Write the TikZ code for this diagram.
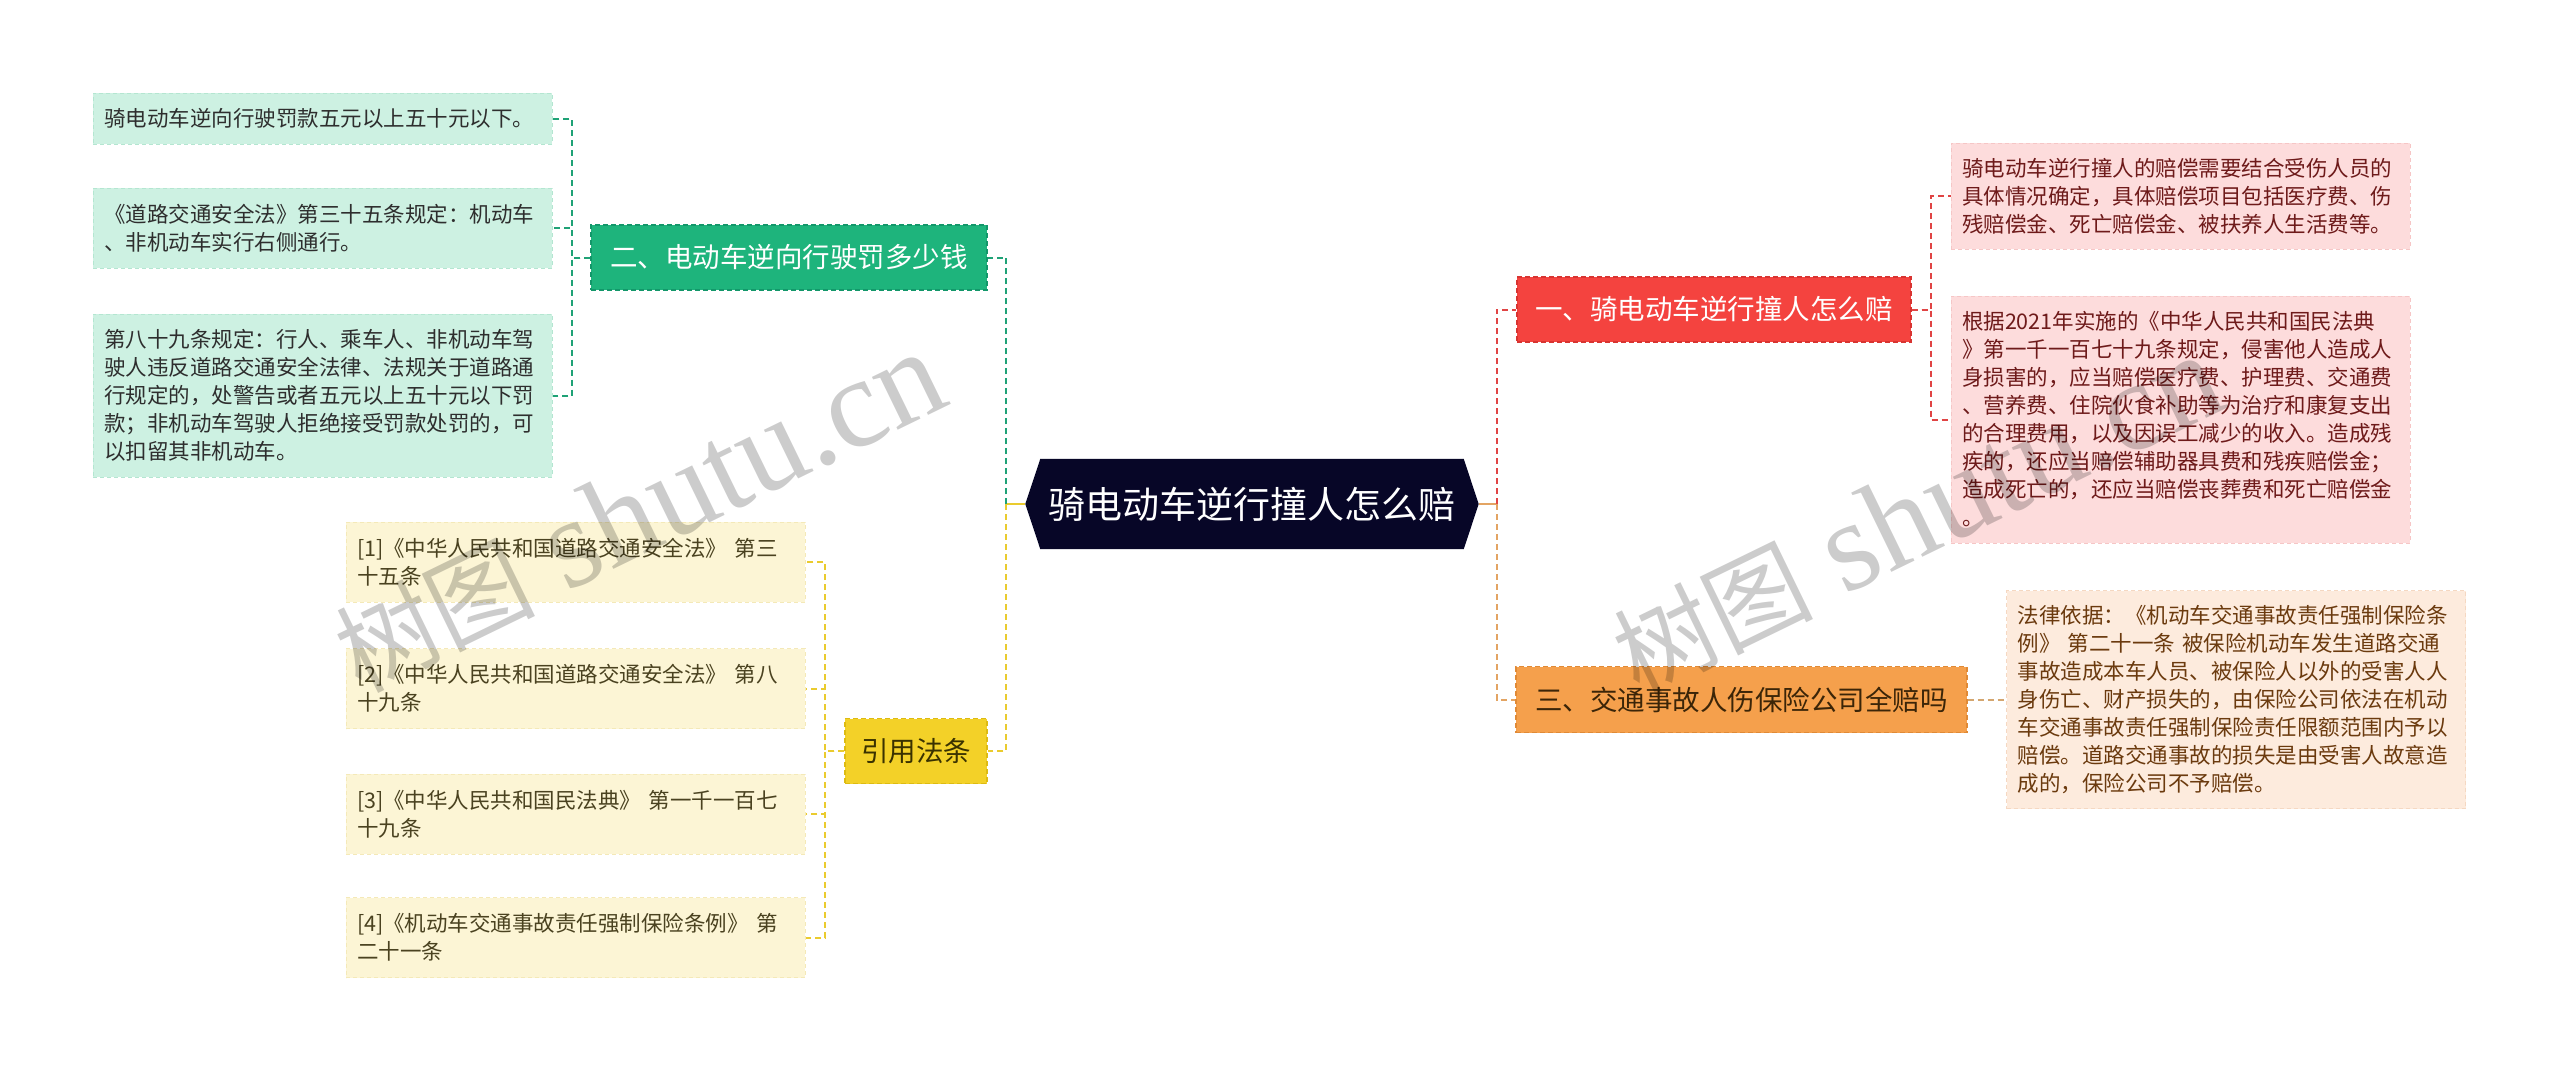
\documentclass[tikz,border=0pt]{standalone}
\usepackage{fontspec}
\setmainfont{Noto Sans CJK SC}
\newfontfamily\wmlatin{Liberation Serif}
\usetikzlibrary{calc}
\pgfdeclarelayer{background}
\pgfdeclarelayer{canvas}
\pgfsetlayers{canvas,background,main}

\definecolor{rootfill}{HTML}{070627}
\definecolor{gfill}{HTML}{1EB47C}
\definecolor{gdraw}{HTML}{13976A}
\definecolor{gline}{HTML}{1FA276}
\definecolor{gleaffill}{HTML}{CDF1E2}
\definecolor{gleafdraw}{HTML}{B4E6D1}
\definecolor{gleaftext}{HTML}{2E2E2E}
\definecolor{yfill}{HTML}{F3D128}
\definecolor{ydraw}{HTML}{DDBB12}
\definecolor{yline}{HTML}{EACB2E}
\definecolor{ytext}{HTML}{3A3200}
\definecolor{yleaffill}{HTML}{FCF5D5}
\definecolor{yleafdraw}{HTML}{F4E9B8}
\definecolor{yleaftext}{HTML}{4A4220}
\definecolor{rfill}{HTML}{F4433F}
\definecolor{rdraw}{HTML}{D83431}
\definecolor{rline}{HTML}{E04444}
\definecolor{rleaffill}{HTML}{FDDCDC}
\definecolor{rleafdraw}{HTML}{F6C6C6}
\definecolor{rleaftext}{HTML}{6E1A1A}
\definecolor{ofill}{HTML}{F5A04C}
\definecolor{odraw}{HTML}{E08A36}
\definecolor{oline}{HTML}{E3A463}
\definecolor{otext}{HTML}{3B2508}
\definecolor{oleaffill}{HTML}{FDEBDD}
\definecolor{oleafdraw}{HTML}{F5D8C2}
\definecolor{oleaftext}{HTML}{6B3A0E}
\definecolor{oleafline}{HTML}{D4A670}

\tikzset{
  leaf/.style={rectangle, align=left, text width=437pt, inner xsep=11pt, inner ysep=0pt,
    font=\fontsize{21.5}{28}\selectfont, line width=1pt, dash pattern=on 4pt off 3pt},
  gleaf/.style={leaf, fill=gleaffill, draw=gleafdraw, text=gleaftext},
  yleaf/.style={leaf, fill=yleaffill, draw=yleafdraw, text=yleaftext},
  rleaf/.style={leaf, fill=rleaffill, draw=rleafdraw, text=rleaftext},
  oleaf/.style={leaf, fill=oleaffill, draw=oleafdraw, text=oleaftext},
  branch/.style={rectangle, inner sep=0pt, font=\fontsize{27.5}{30}\selectfont,
    line width=1.2pt, dash pattern=on 5pt off 3pt, minimum height=65pt},
  gbranch/.style={branch, fill=gfill, draw=gdraw, text=white},
  ybranch/.style={branch, fill=yfill, draw=ydraw, text=ytext},
  rbranch/.style={branch, fill=rfill, draw=rdraw, text=white},
  obranch/.style={branch, fill=ofill, draw=odraw, text=otext},
  rootnode/.style={rectangle, inner sep=0pt, text=white, font=\fontsize{37}{40}\selectfont},
  conn/.style={line width=2pt, dash pattern=on 6pt off 4pt},
  stub/.style={line width=2pt},
  wm/.style={text=black, text opacity=0.2, inner sep=0pt}
}

\begin{document}
\begin{tikzpicture}[x=1pt,y=-1pt]
\begin{pgfonlayer}{canvas}
\fill[white] (0,0) rectangle (2560,1071);
\end{pgfonlayer}
\useasboundingbox (0,0) rectangle (2560,1071);

% root
\node[rootnode, minimum width=423pt, minimum height=90pt] (root) at (1252,504) {骑电动车逆行撞人怎么赔};
\begin{pgfonlayer}{background}
\fill[rootfill] (root.north west) -- (root.north east) -- ([xshift=15pt]root.east) -- (root.south east)
  -- (root.south west) -- ([xshift=-15pt]root.west) -- cycle;
\end{pgfonlayer}
\coordinate (rootL) at ([xshift=-15pt]root.west);
\coordinate (rootR) at ([xshift=15pt]root.east);

% branches
\node[gbranch, minimum width=396pt] (g) at (789,257.5) {二、电动车逆向行驶罚多少钱};
\node[ybranch, minimum width=142pt] (y) at (916,751) {引用法条};
\node[rbranch, minimum width=394pt] (r) at (1714,309.5) {一、骑电动车逆行撞人怎么赔};
\node[obranch, minimum width=451pt, minimum height=66pt] (o) at (1741.5,699.5) {三、交通事故人伤保险公司全赔吗};

% green leaves
\node[gleaf, minimum height=51pt] (g1) at (322.5,118.5) {骑电动车逆向行驶罚款五元以上五十元以下。};
\node[gleaf, minimum height=80pt] (g2) at (322.5,228) {《道路交通安全法》第三十五条规定：机动车\\、非机动车实行右侧通行。};
\node[gleaf, minimum height=163pt] (g3) at (322.5,395.5) {第八十九条规定：行人、乘车人、非机动车驾\\驶人违反道路交通安全法律、法规关于道路通\\行规定的，处警告或者五元以上五十元以下罚\\款；非机动车驾驶人拒绝接受罚款处罚的，可\\以扣留其非机动车。};

% yellow leaves
\node[yleaf, minimum height=80pt] (y1) at (575.5,562) {[1]《中华人民共和国道路交通安全法》~第三\\十五条};
\node[yleaf, minimum height=80pt] (y2) at (575.5,688.5) {[2]《中华人民共和国道路交通安全法》~第八\\十九条};
\node[yleaf, minimum height=80pt] (y3) at (575.5,814) {[3]《中华人民共和国民法典》~第一千一百七\\十九条};
\node[yleaf, minimum height=80pt] (y4) at (575.5,937.5) {[4]《机动车交通事故责任强制保险条例》~第\\二十一条};

% red leaves
\node[rleaf, minimum height=106pt] (r1) at (2180.5,196) {骑电动车逆行撞人的赔偿需要结合受伤人员的\\具体情况确定，具体赔偿项目包括医疗费、伤\\残赔偿金、死亡赔偿金、被扶养人生活费等。};
\node[rleaf, minimum height=247pt] (r2) at (2180.5,419.5) {根据2021年实施的《中华人民共和国民法典\\》第一千一百七十九条规定，侵害他人造成人\\身损害的，应当赔偿医疗费、护理费、交通费\\、营养费、住院伙食补助等为治疗和康复支出\\的合理费用，以及因误工减少的收入。造成残\\疾的，还应当赔偿辅助器具费和残疾赔偿金；\\造成死亡的，还应当赔偿丧葬费和死亡赔偿金\\。};

% orange leaf
\node[oleaf, minimum height=218pt] (o1) at (2236,699.5) {法律依据：《机动车交通事故责任强制保险条\\例》~第二十一条~被保险机动车发生道路交通\\事故造成本车人员、被保险人以外的受害人人\\身伤亡、财产损失的，由保险公司依法在机动\\车交通事故责任强制保险责任限额范围内予以\\赔偿。道路交通事故的损失是由受害人故意造\\成的，保险公司不予赔偿。};

% root connectors
\draw[stub, yline] (rootL) -- ++(-19,0) coordinate (lt);
\draw[stub, oline] (rootR) -- ++(18,0) coordinate (rt);
\draw[conn, gline] (lt) |- (g.east);
\draw[conn, yline] (lt) |- (y.east);
\draw[conn, rline] (rt) |- (r.west);
\draw[conn, oline] (rt) |- (o.west);

% green
\foreach \n in {g1,g2,g3} \draw[conn, gline] (g.west) -- ++(-18,0) |- (\n.east);
% yellow
\foreach \n in {y1,y2,y3,y4} \draw[conn, yline] (y.west) -- ++(-19,0) |- (\n.east);
% red
\foreach \n in {r1,r2} \draw[conn, rline] (r.east) -- ++(19,0) |- (\n.west);
% orange
\draw[conn, oleafline] (o.east) -- (o1.west);

% watermarks
\node[wm, rotate=26] (wm1) at (639,512) {{\fontsize{100}{100}\selectfont 树图}\hspace{30pt}{\wmlatin\fontsize{128}{128}\selectfont shutu.cn}};
\node[wm, rotate=26] (wm2) at (1917,515) {{\fontsize{100}{100}\selectfont 树图}\hspace{30pt}{\wmlatin\fontsize{128}{128}\selectfont shutu.cn}};
\end{tikzpicture}
\end{document}
